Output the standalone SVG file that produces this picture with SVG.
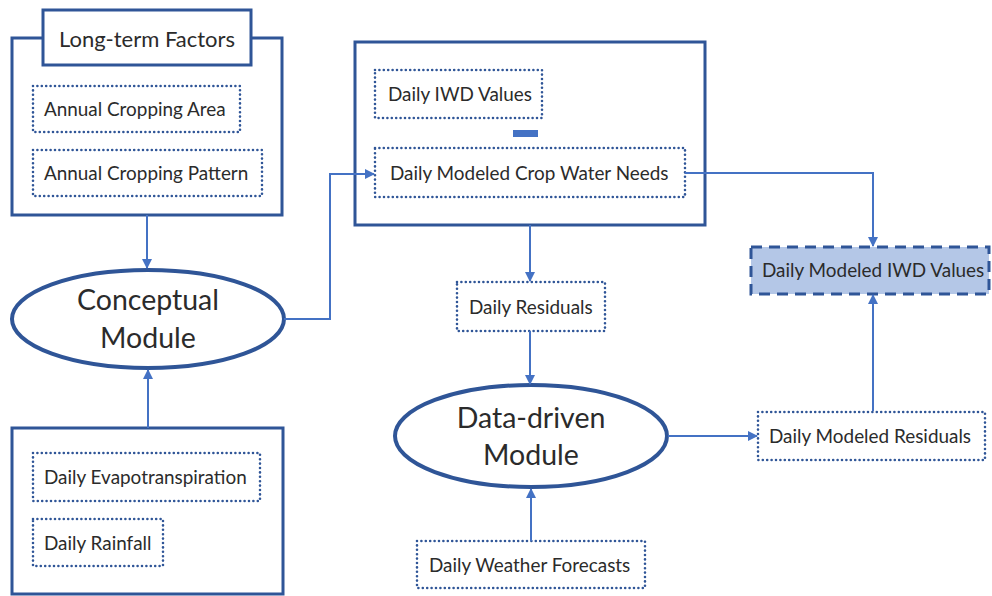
<svg xmlns="http://www.w3.org/2000/svg" width="992" height="596" viewBox="0 0 992 596">
  <defs>
    <marker id="arr" viewBox="0 0 10 10" refX="9" refY="5" markerWidth="5" markerHeight="5" orient="auto" markerUnits="strokeWidth">
      <path d="M0,0 L10,5 L0,10 z" fill="#4472C4"/>
    </marker>
    <style>
      .frame { fill: #ffffff; stroke: #2F5597; stroke-width: 3; }
      .dot { fill: #ffffff; stroke: #2F5597; stroke-width: 2.6; stroke-dasharray: 0 4.4; stroke-linecap: round; }
      .oval { fill: #ffffff; stroke: #2F5597; stroke-width: 4; }
      .out { fill: #B4C7E7; stroke: #2F5597; stroke-width: 3; stroke-dasharray: 11 7; }
      .link { fill: none; stroke: #4472C4; stroke-width: 2; marker-end: url(#arr); }
      text { font-family: Lato, "Open Sans", sans-serif; fill: #2b2b2b; }
      .s { font-size: 18.9px; }
      .t { font-size: 22px; }
      .b { font-size: 28.5px; text-anchor: middle; }
    </style>
  </defs>

  <rect width="992" height="596" fill="#ffffff"/>

  <!-- long-term factors group -->
  <g id="long-term">
    <rect class="frame" x="12" y="38" width="270" height="177"/>
    <rect class="frame" x="43" y="10" width="208" height="55"/>
    <text class="t" x="147" y="47" text-anchor="middle">Long-term Factors</text>
  </g>
  <g id="cropping-area">
    <rect class="dot" x="33" y="86" width="207" height="46"/>
    <text class="s" x="44" y="116">Annual Cropping Area</text>
  </g>
  <g id="cropping-pattern">
    <rect class="dot" x="33" y="150" width="229" height="46"/>
    <text class="s" x="44" y="180">Annual Cropping Pattern</text>
  </g>

  <!-- conceptual module -->
  <g id="conceptual">
    <ellipse class="oval" cx="148" cy="319" rx="136" ry="49"/>
    <text class="b" x="148" y="310">Conceptual</text>
    <text class="b" x="148" y="348">Module</text>
  </g>

  <!-- daily inputs group -->
  <g id="daily-inputs">
    <rect class="frame" x="12" y="428" width="271" height="166"/>
  </g>
  <g id="evapotranspiration">
    <rect class="dot" x="33" y="453" width="227" height="48"/>
    <text class="s" x="44" y="484">Daily Evapotranspiration</text>
  </g>
  <g id="rainfall">
    <rect class="dot" x="33" y="519" width="130" height="47"/>
    <text class="s" x="44" y="550">Daily Rainfall</text>
  </g>

  <!-- residual computation group -->
  <g id="residual-calc">
    <rect class="frame" x="355" y="42" width="350" height="183"/>
    <rect x="513" y="130" width="25" height="7" fill="#4472C4"/>
  </g>
  <g id="iwd-values">
    <rect class="dot" x="375" y="70" width="167" height="48"/>
    <text class="s" x="388" y="101">Daily IWD Values</text>
  </g>
  <g id="crop-water">
    <rect class="dot" x="375" y="148" width="310" height="49"/>
    <text class="s" x="390" y="180">Daily Modeled Crop Water Needs</text>
  </g>

  <!-- residuals -->
  <g id="residuals">
    <rect class="dot" x="457" y="282" width="148" height="49"/>
    <text class="s" x="469" y="314">Daily Residuals</text>
  </g>

  <!-- data-driven module -->
  <g id="data-driven">
    <ellipse class="oval" cx="531" cy="436" rx="136" ry="51"/>
    <text class="b" x="531" y="428">Data-driven</text>
    <text class="b" x="531" y="465">Module</text>
  </g>

  <!-- weather forecasts -->
  <g id="weather">
    <rect class="dot" x="417" y="541" width="228" height="47"/>
    <text class="s" x="429" y="572">Daily Weather Forecasts</text>
  </g>

  <!-- modeled residuals -->
  <g id="modeled-residuals">
    <rect class="dot" x="758" y="412" width="227" height="48"/>
    <text class="s" x="769" y="443">Daily Modeled Residuals</text>
  </g>

  <!-- final output -->
  <g id="modeled-iwd">
    <rect class="out" x="751" y="247" width="238" height="47"/>
    <text class="s" x="762" y="277">Daily Modeled IWD Values</text>
  </g>

  <!-- connectors, drawn last so they run across the group frames -->
  <g id="connectors">
    <path class="link" d="M147,215 L147,268"/>
    <path class="link" d="M148,428 L148,370"/>
    <path class="link" d="M284,319 L330,319 L330,174 L374,174"/>
    <path class="link" d="M685,173 L873,173 L873,246"/>
    <path class="link" d="M530,225 L530,281"/>
    <path class="link" d="M530,331 L530,384"/>
    <path class="link" d="M531,541 L531,489"/>
    <path class="link" d="M668,436 L757,436"/>
    <path class="link" d="M873,411 L873,295"/>
  </g>
</svg>
